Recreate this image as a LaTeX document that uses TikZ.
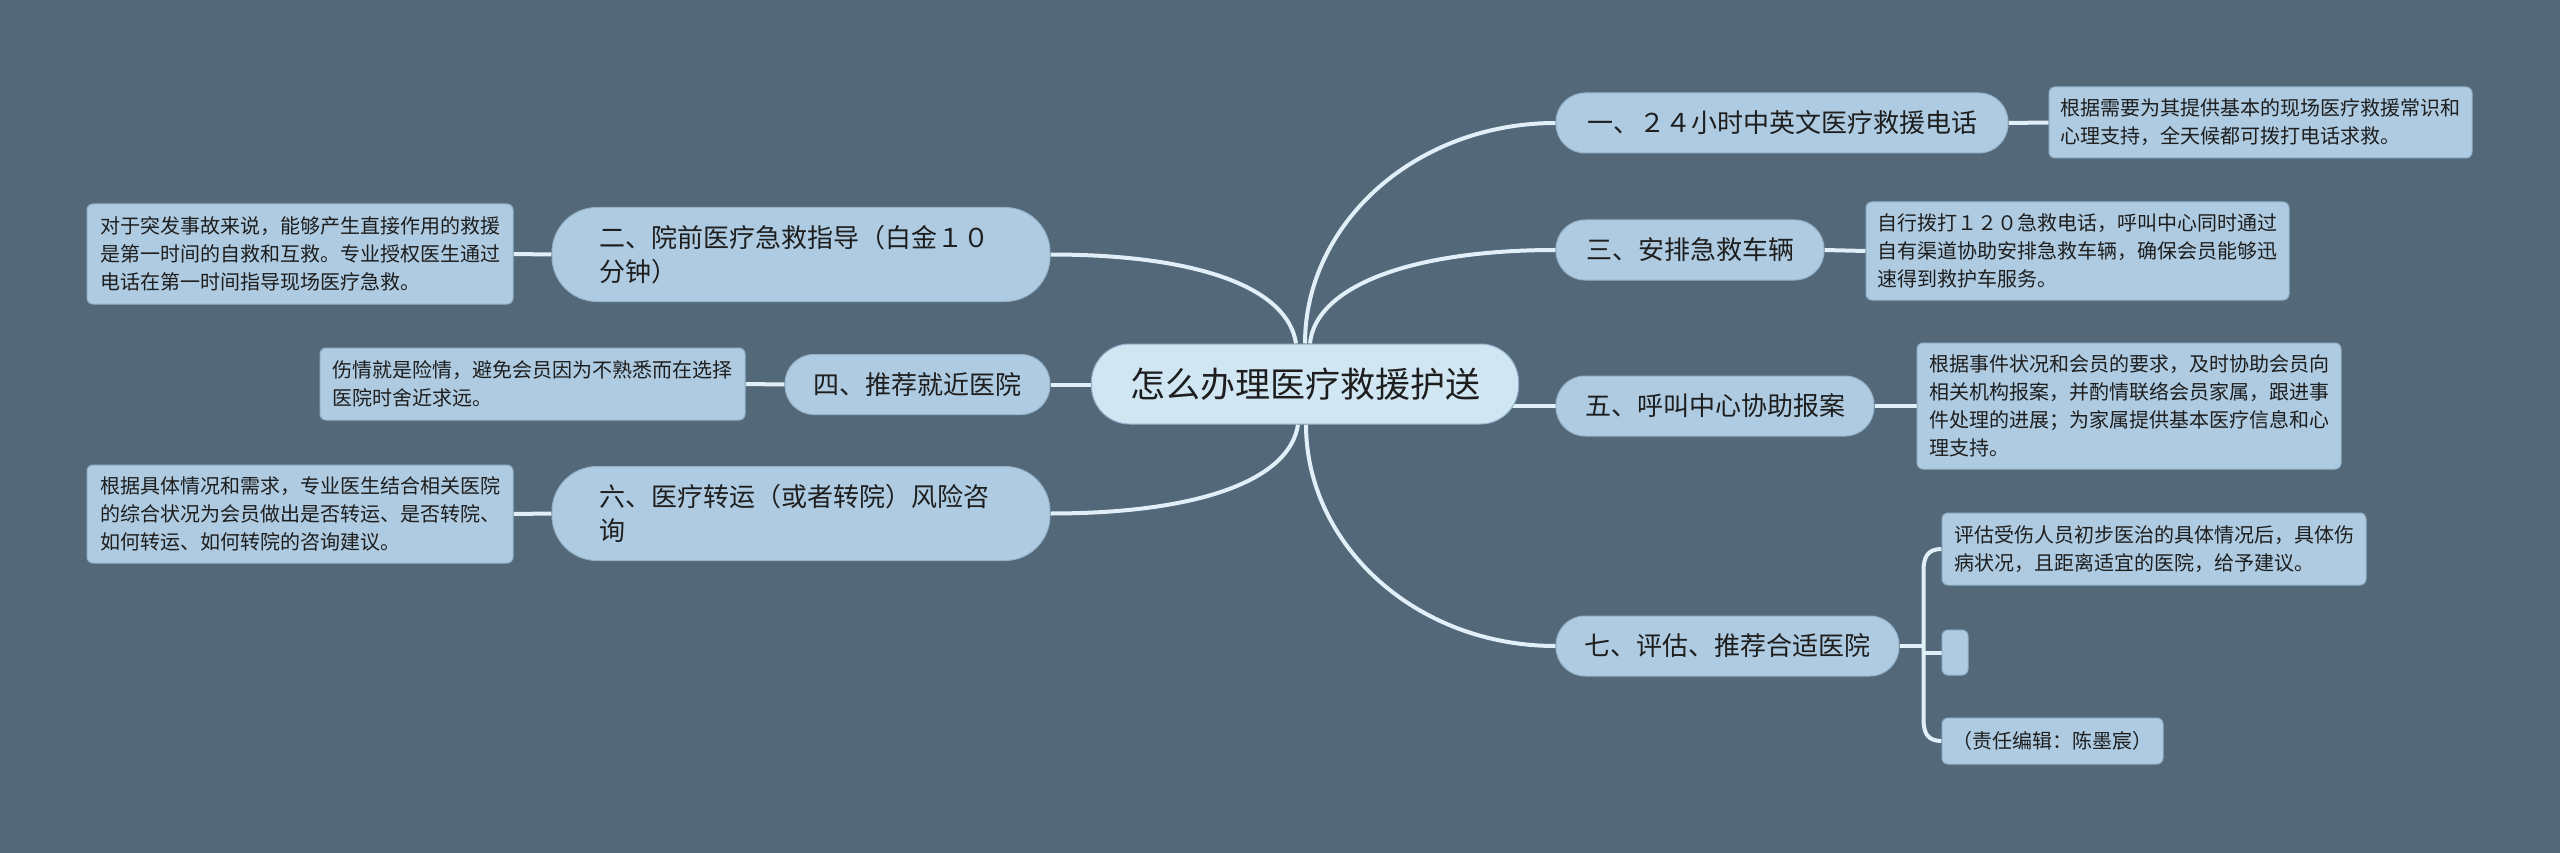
\documentclass[tikz,border=0pt]{standalone}
\usepackage{fontspec}
\setmainfont{Noto Sans CJK SC}
\usetikzlibrary{calc}
\definecolor{bgc}{HTML}{536979}
\definecolor{nodec}{HTML}{AECBE1}
\definecolor{centc}{HTML}{D0E6F3}
\definecolor{linec}{HTML}{E1F0F8}
\definecolor{edgec}{HTML}{93B2C9}
\definecolor{txtc}{HTML}{1E1E1E}
\pgfdeclarelayer{bg}
\pgfsetlayers{bg,main}
\begin{document}
\begin{tikzpicture}[x=1pt,y=-1pt,
  conn/.style={draw=linec, line width=4pt},
  centbox/.style={fill=centc, draw=edgec, line width=1pt, rounded corners=38pt, minimum width=427pt, minimum height=80pt, inner sep=0pt, text=txtc, font=\fontsize{35}{42}\selectfont},
  branch/.style={fill=nodec, draw=edgec, line width=1pt, rounded corners=29pt, minimum height=60pt, inner sep=0pt, text=txtc, font=\fontsize{26}{34}\selectfont},
  tallbranch/.style={branch, rounded corners=45pt, minimum height=94pt, text width=404pt, inner xsep=47pt, align=left},
  detail/.style={fill=nodec, draw=edgec, line width=1pt, rounded corners=6pt, inner sep=0pt, align=left, text=txtc, font=\fontsize{20}{28}\selectfont},
]
\useasboundingbox (0,0) rectangle (2560,853);

% central topic
\node[centbox] (C) at (1305,384) {怎么办理医疗救援护送};

% right branches
\node[branch, minimum width=452pt] (B1) at (1782,123) {一、２４小时中英文医疗救援电话};
\node[branch, minimum width=268pt] (B3) at (1690,250) {三、安排急救车辆};
\node[branch, minimum width=318pt] (B5) at (1715,406) {五、呼叫中心协助报案};
\node[branch, minimum width=343pt] (B7) at (1727.5,646) {七、评估、推荐合适医院};

% left branches
\node[tallbranch] (B2) at (801,254.5) {二、院前医疗急救指导（白金１０\\分钟）};
\node[branch, minimum width=265pt] (B4) at (917.5,384.5) {四、推荐就近医院};
\node[tallbranch] (B6) at (801,513.5) {六、医疗转运（或者转院）风险咨\\询};

% details right
\node[detail, minimum width=423pt, minimum height=71pt] (D1) at (2260.5,122.5) {根据需要为其提供基本的现场医疗救援常识和\\心理支持，全天候都可拨打电话求救。};
\node[detail, minimum width=423pt, minimum height=98pt] (D3) at (2077.5,251) {自行拨打１２０急救电话，呼叫中心同时通过\\自有渠道协助安排急救车辆，确保会员能够迅\\速得到救护车服务。};
\node[detail, minimum width=424pt, minimum height=126pt] (D5) at (2129,406) {根据事件状况和会员的要求，及时协助会员向\\相关机构报案，并酌情联络会员家属，跟进事\\件处理的进展；为家属提供基本医疗信息和心\\理支持。};
\node[detail, minimum width=424pt, minimum height=72pt] (D7a) at (2154,549) {评估受伤人员初步医治的具体情况后，具体伤\\病状况，且距离适宜的医院，给予建议。};
\node[detail, minimum width=26pt, minimum height=45pt] (D7b) at (1955,652.5) {};
\node[detail, minimum width=221pt, minimum height=46pt] (D7c) at (2052.5,741) {（责任编辑：陈墨宸）};

% details left
\node[detail, minimum width=426pt, minimum height=100pt] (D2) at (300,254) {对于突发事故来说，能够产生直接作用的救援\\是第一时间的自救和互救。专业授权医生通过\\电话在第一时间指导现场医疗急救。};
\node[detail, minimum width=425pt, minimum height=72pt] (D4) at (532.5,384) {伤情就是险情，避免会员因为不熟悉而在选择\\医院时舍近求远。};
\node[detail, minimum width=426pt, minimum height=98pt] (D6) at (300,514) {根据具体情况和需求，专业医生结合相关医院\\的综合状况为会员做出是否转运、是否转院、\\如何转运、如何转院的咨询建议。};

\coordinate (J) at ($(B7.east)+(24,0)$);

\begin{pgfonlayer}{bg}
\fill[bgc] (0,0) rectangle (2560,853);
% center to branches
\draw[conn] ([xshift=-9pt]C.north) .. controls +(-8,-55) and +(150,0) .. (B2.east);
\draw[conn] (C.north) .. controls +(0,-120) and +(-140,0) .. (B1.west);
\draw[conn] ([xshift=5pt]C.north) .. controls +(5,-55) and +(-150,0) .. (B3.west);
\draw[conn] ([xshift=-7pt]C.south) .. controls +(-8,55) and +(150,0) .. (B6.east);
\draw[conn] ([xshift=1pt]C.south) .. controls +(0,120) and +(-140,0) .. (B7.west);
\draw[conn] (C.center |- B4.east) -- (B4.east);
\draw[conn] (C.center |- B5.west) -- (B5.west);
% branches to details
\draw[conn] (B1.east) -- (D1.west);
\draw[conn] (B3.east) -- (D3.west);
\draw[conn] (B5.east) -- (D5.west);
\draw[conn] (B2.west) -- (D2.east);
\draw[conn] (B4.west) -- (D4.east);
\draw[conn] (B6.west) -- (D6.east);
% bracket for branch seven
\draw[conn] (B7.east) -- (J);
\draw[conn] (D7a.west) .. controls +(-14,0) and +(0,-14) .. ($(J |- D7a.west)+(0,22)$) -- ($(J |- D7c.west)+(0,-22)$) .. controls +(0,14) and +(-14,0) .. (D7c.west);
\draw[conn] (J |- D7b.west) -- (D7b.west);
\end{pgfonlayer}
\end{tikzpicture}
\end{document}
